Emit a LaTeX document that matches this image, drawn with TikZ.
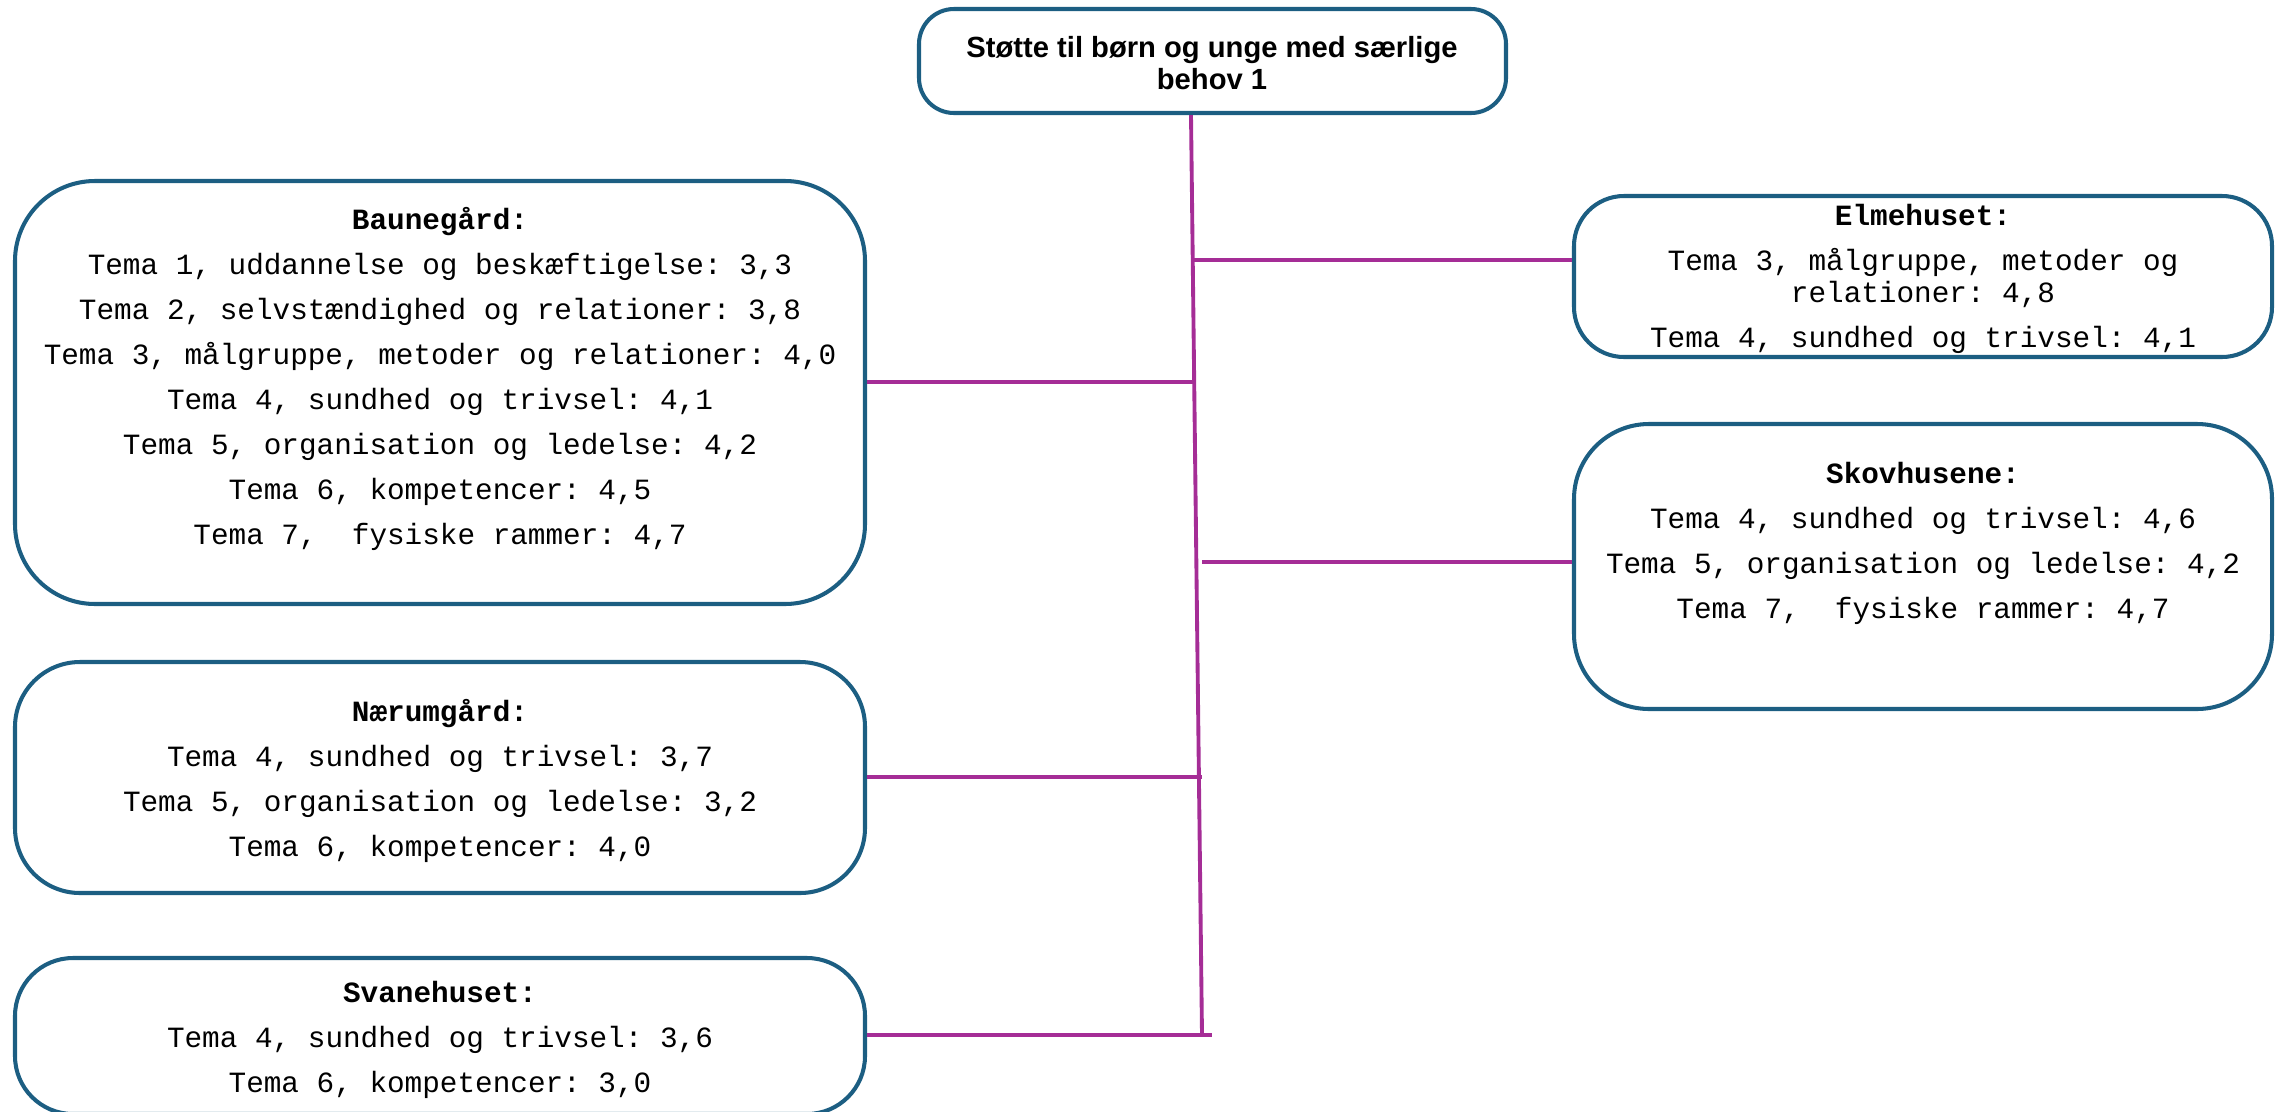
\documentclass[tikz,border=0pt]{standalone}
\usepackage{fontspec}
\setmainfont{Liberation Sans}
\setmonofont{Liberation Mono}
\usetikzlibrary{positioning}
\definecolor{boxblue}{RGB}{28,94,130}
\definecolor{linkpurple}{RGB}{165,45,150}

\begin{document}
\begin{tikzpicture}[
    unitbox/.style={shape=rectangle, draw=boxblue, line width=1.15pt, inner sep=0pt},
    unittext/.style={anchor=north, align=center, inner sep=0pt, font=\fontsize{8.35}{12.8}\selectfont\ttfamily},
    maintitle/.style={align=center, inner sep=0pt, font=\fontsize{8.3}{9.1}\selectfont\bfseries},
    trunk/.style={draw=linkpurple, line width=1.1pt},
    branch/.style={draw=linkpurple, line width=1.2pt},
]
\useasboundingbox (0,0) rectangle (22.77,-11.11);

% title
\node[unitbox, rounded corners=0.35cm, minimum width=5.87cm, minimum height=1.04cm] (title) at (12.125,-0.61) {};
\node[maintitle] (titletext) at (12.12,-0.63) {Støtte til børn og unge med særlige\\behov 1};

% boxes
\node[unitbox, rounded corners=0.8cm, minimum width=8.5cm, minimum height=4.23cm] (baune) at (4.40,-3.925) {};
\node[unitbox, rounded corners=0.5cm, minimum width=6.98cm, minimum height=1.61cm] (elme) at (19.23,-2.765) {};
\node[unitbox, rounded corners=0.75cm, minimum width=6.98cm, minimum height=2.85cm] (skov) at (19.23,-5.665) {};
\node[unitbox, rounded corners=0.65cm, minimum width=8.5cm, minimum height=2.31cm] (naer) at (4.40,-7.775) {};
\node[unitbox, rounded corners=0.58cm, minimum width=8.5cm, minimum height=1.56cm] (svane) at (4.40,-10.36) {};

% texts
\node[unittext] (baunetext) at (4.40,-2.07) {\textbf{Baunegård:}\\
    Tema 1, uddannelse og beskæftigelse: 3,3\\
    Tema 2, selvstændighed og relationer: 3,8\\
    Tema 3, målgruppe, metoder og relationer: 4,0\\
    Tema 4, sundhed og trivsel: 4,1\\
    Tema 5, organisation og ledelse: 4,2\\
    Tema 6, kompetencer: 4,5\\
    Tema 7,\ \ fysiske rammer: 4,7};
\node[unittext] (elmetext) at (19.23,-2.04) {\textbf{Elmehuset:}\\
    Tema 3, målgruppe, metoder og\\[-3.7pt]
    relationer: 4,8\\
    Tema 4, sundhed og trivsel: 4,1};
\node[unittext] (skovtext) at (19.23,-4.62) {\textbf{Skovhusene:}\\
    Tema 4, sundhed og trivsel: 4,6\\
    Tema 5, organisation og ledelse: 4,2\\
    Tema 7,\ \ fysiske rammer: 4,7};
\node[unittext] (naertext) at (4.40,-6.99) {\textbf{Nærumgård:}\\
    Tema 4, sundhed og trivsel: 3,7\\
    Tema 5, organisation og ledelse: 3,2\\
    Tema 6, kompetencer: 4,0};
\node[unittext] (svanetext) at (4.40,-9.81) {\textbf{Svanehuset:}\\
    Tema 4, sundhed og trivsel: 3,6\\
    Tema 6, kompetencer: 3,0};

% connectors
\coordinate (trunktop) at (11.91,-1.13);
\coordinate (trunkbot) at (12.02,-10.35);
\coordinate (jelme) at (11.93,-2.60);
\coordinate (jbaune) at (11.93,-3.82);
\coordinate (jskov) at (12.02,-5.62);
\coordinate (jnaer) at (12.02,-7.77);
\coordinate (jsvane) at (12.12,-10.35);

\draw[trunk] (title.south -| trunktop) -- (trunkbot);
\draw[branch] (baune.east |- jbaune) -- (jbaune);
\draw[branch] (jelme) -- (elme.west |- jelme);
\draw[branch] (jskov) -- (skov.west |- jskov);
\draw[branch] (naer.east |- jnaer) -- (jnaer);
\draw[branch] (svane.east |- jsvane) -- (jsvane);
\end{tikzpicture}
\end{document}
